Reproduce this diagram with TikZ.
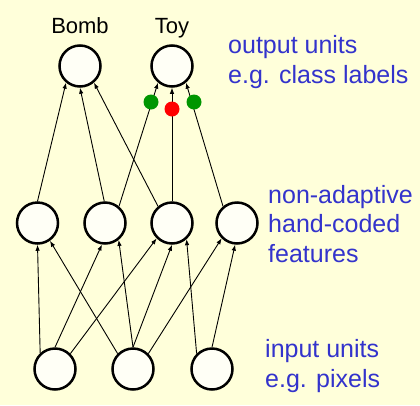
\documentclass[tikz,border=0pt]{standalone}
\usepackage{fontspec}
\setmainfont{Liberation Sans}
\usetikzlibrary{arrows.meta}
\definecolor{bg}{RGB}{255,255,218}
\definecolor{unitfill}{RGB}{255,255,246}
\definecolor{lbl}{RGB}{51,51,204}
\definecolor{dotgreen}{RGB}{0,150,0}
\definecolor{dotred}{RGB}{255,0,0}
\begin{document}
\begin{tikzpicture}[x=1pt,y=-1pt,
  unit/.style={circle,draw=black,line width=2.5pt,fill=unitfill,minimum size=41pt,inner sep=0pt},
  conn/.style={line width=0.9pt,-{Latex[length=6pt,width=4.5pt]}},
  dot/.style={circle,minimum size=15pt,inner sep=0pt,fill=#1},
  blab/.style={text=lbl,font=\fontsize{25}{29.5}\selectfont,align=left,anchor=base west,inner sep=0pt},
  clab/.style={text=black,font=\fontsize{22}{26}\selectfont,anchor=base,inner sep=0pt}]
\fill[bg] (0,0) rectangle (420,405);
\useasboundingbox (0,0) rectangle (420,405);
% units
\node[unit] (bomb) at (80,66) {};
\node[unit] (toy) at (172,66) {};
\node[unit] (f1) at (37.5,223) {};
\node[unit] (f2) at (105,223) {};
\node[unit] (f3) at (172,223) {};
\node[unit] (f4) at (237,223) {};
\node[unit] (i1) at (55,369) {};
\node[unit] (i2) at (133,369) {};
\node[unit] (i3) at (212,369) {};
% class labels
\node[clab] (lbomb) at (80,33) {Bomb};
\node[clab] (ltoy) at (172,33) {Toy};
% input -> features
\draw[conn] (i1.133) -- (f1.270);
\draw[conn] (i2.135) -- (f1.-55);
\draw[conn] (i1.90) -- (f2.-98);
\draw[conn] (i2.90) -- (f2.-51);
\draw[conn] (i1.45) -- (f3.225);
\draw[conn] (i2.90) -- (f3.-90);
\draw[conn] (i3.135) -- (f3.-48);
\draw[conn] (i2.45) -- (f4.225);
\draw[conn] (i3.90) -- (f4.-95);
% features -> outputs
\draw[conn] (f1.90) -- (bomb.-130);
\draw[conn] (f2.92) -- (bomb.-90);
\draw[conn] (f3.130) -- (bomb.-50);
\draw[conn] (f2.50) -- (toy.-130);
\draw[conn] (f3.90) -- (toy.-90);
\draw[conn] (f4.130) -- (toy.-50);
% weight dots
\node[dot=dotgreen] (w1) at (151,102) {};
\node[dot=dotred] (w2) at (172,109) {};
\node[dot=dotgreen] (w3) at (194,102) {};
% layer descriptions (base anchor = baseline of last line)
\node[blab] (tout) at (228,83) {output units\\e.g. class labels};
\node[blab] (tfeat) at (268,262) {non-adaptive\\hand-coded\\features};
\node[blab] (tin) at (265,387) {input units\\e.g. pixels};
\end{tikzpicture}
\end{document}
